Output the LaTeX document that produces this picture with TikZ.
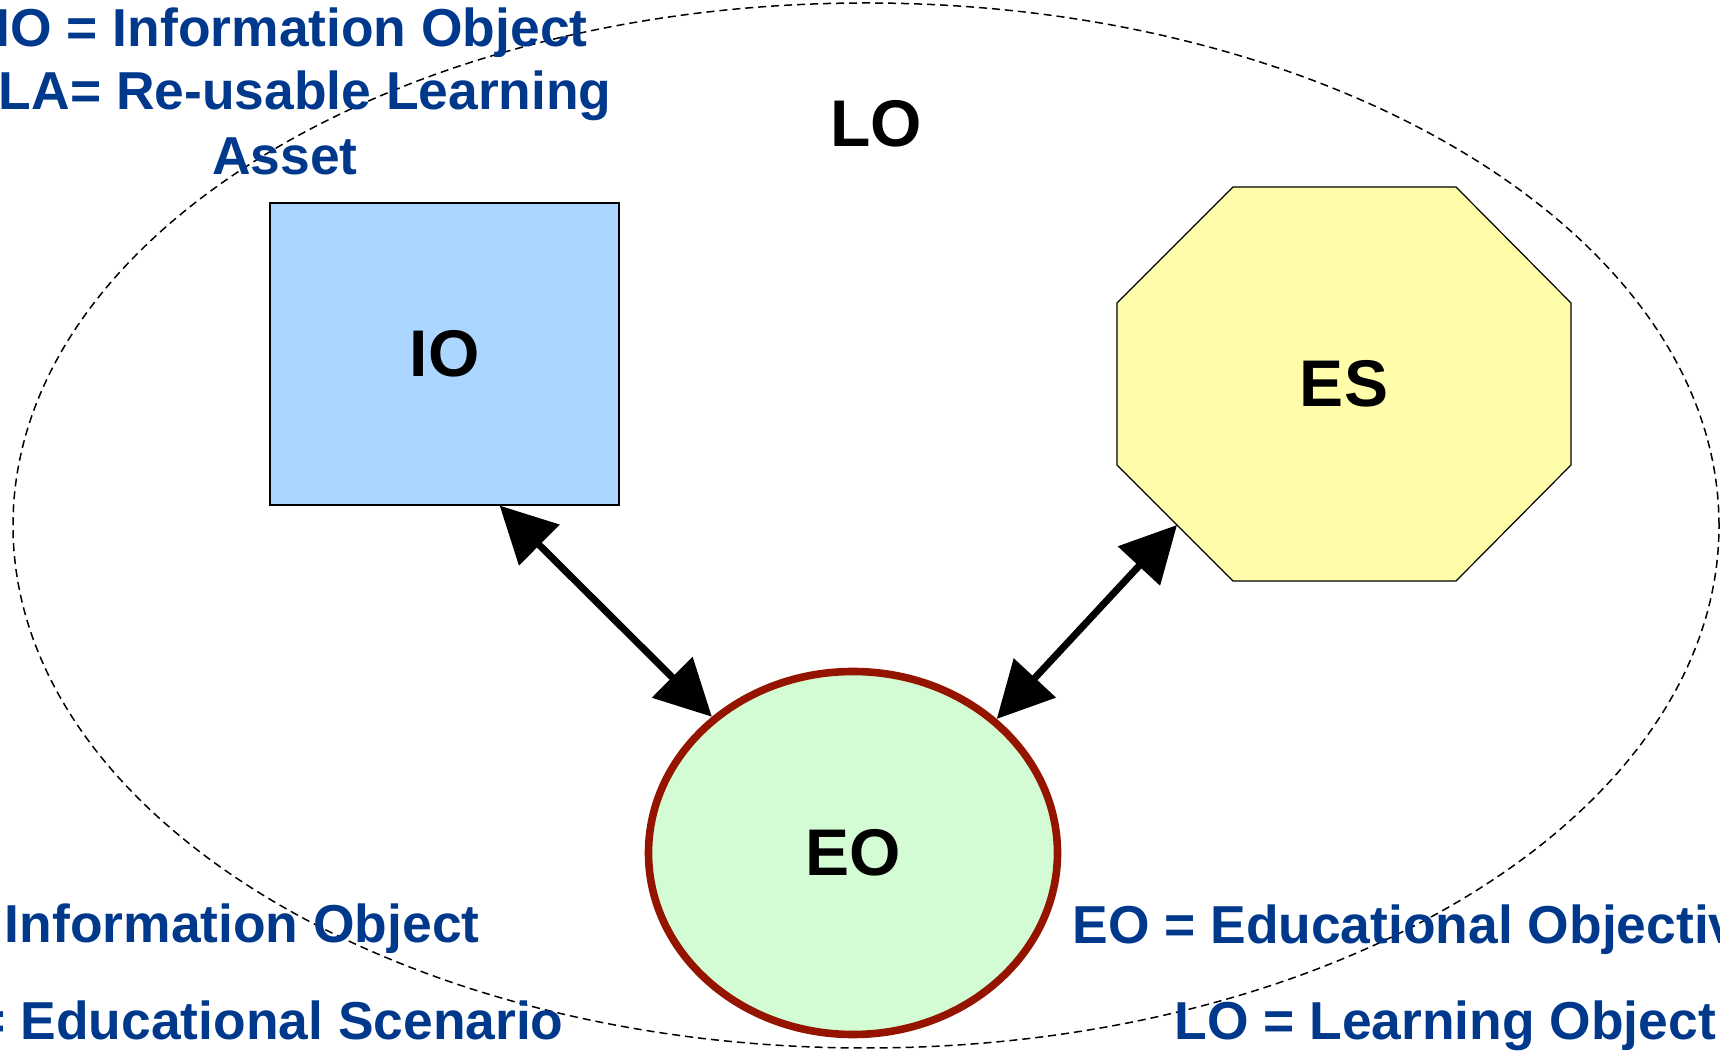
\documentclass[tikz,border=0pt]{standalone}
\usepackage{xcolor}
\usepackage{fontspec}
\setmainfont{Liberation Sans}
\usepackage{tikz}
\usetikzlibrary{shapes.geometric, arrows.meta}

\definecolor{keyblue}{RGB}{0,56,140}
\definecolor{iofill}{RGB}{170,214,255}
\definecolor{esfill}{RGB}{255,252,170}
\definecolor{eofill}{RGB}{212,252,212}
\definecolor{eoline}{RGB}{148,20,0}

\begin{document}
\begin{tikzpicture}[x=0.5pt, y=-0.5pt,
    bigtext/.style={font=\fontsize{33}{40}\selectfont\bfseries, inner sep=0pt},
    keytext/.style={font=\fontsize{26.7}{32}\selectfont\bfseries, text=keyblue, inner sep=0pt},
    twoway/.style={{Triangle[length=28pt,width=28pt]}-{Triangle[length=28pt,width=28pt]}, line width=3.5pt}]
            % Frame
            \useasboundingbox (0,0) rectangle (1720,1052);
            \clip (0,0) rectangle (1720,1052);

            % Learning object ring
            \node[draw, ellipse, dash pattern=on 4pt off 2.5pt, line width=0.75pt,
                  minimum width=853pt, minimum height=522.5pt, inner sep=0pt] (lo) at (866,525.5) {};
            \node[bigtext] (lotext) at (876,124) {LO};

            % Parts
            \node[bigtext, draw, line width=0.6pt, fill=iofill,
                  minimum width=174.5pt, minimum height=151pt] (io) at (444.5,354) {IO};
            \draw[fill=esfill, line width=0.6pt] (1233,187) -- (1456,187) -- (1571,303) -- (1571,465)
                -- (1456,581) -- (1233,581) -- (1117,465) -- (1117,303) -- cycle;
            \node[bigtext] (es) at (1344,384) {ES};
            \coordinate (esport) at (1177,525);
            \node[bigtext, draw=eoline, line width=3.8pt, fill=eofill, ellipse,
                  minimum width=204.5pt, minimum height=181.5pt] (eo) at (853,853) {EO};

            % Links
            \draw[twoway] (io.-70.5) -- (eo.136.6);
            \draw[twoway] (eo.43.6) -- (esport);

            % Key (top left)
            \node[keytext, anchor=base east] (keyio) at (588,47) {IO = Information Object};
            \node[keytext, anchor=base east] (keyrla) at (612,110) {LA= Re-usable Learning};
            \node[keytext, anchor=base] (keyasset) at (285,175) {Asset};

            % Key (bottom)
            \node[keytext, anchor=base east] (keyinfo) at (480,943) {Information Object};
            \node[keytext, anchor=base east] (keyes) at (564,1040) {= Educational Scenario};
            \node[keytext, anchor=base west] (keyeo) at (1072,944) {EO = Educational Objectiv};
            \node[keytext, anchor=base west] (keylo) at (1174,1039) {LO = Learning Object};
        \end{tikzpicture}
\end{document}
